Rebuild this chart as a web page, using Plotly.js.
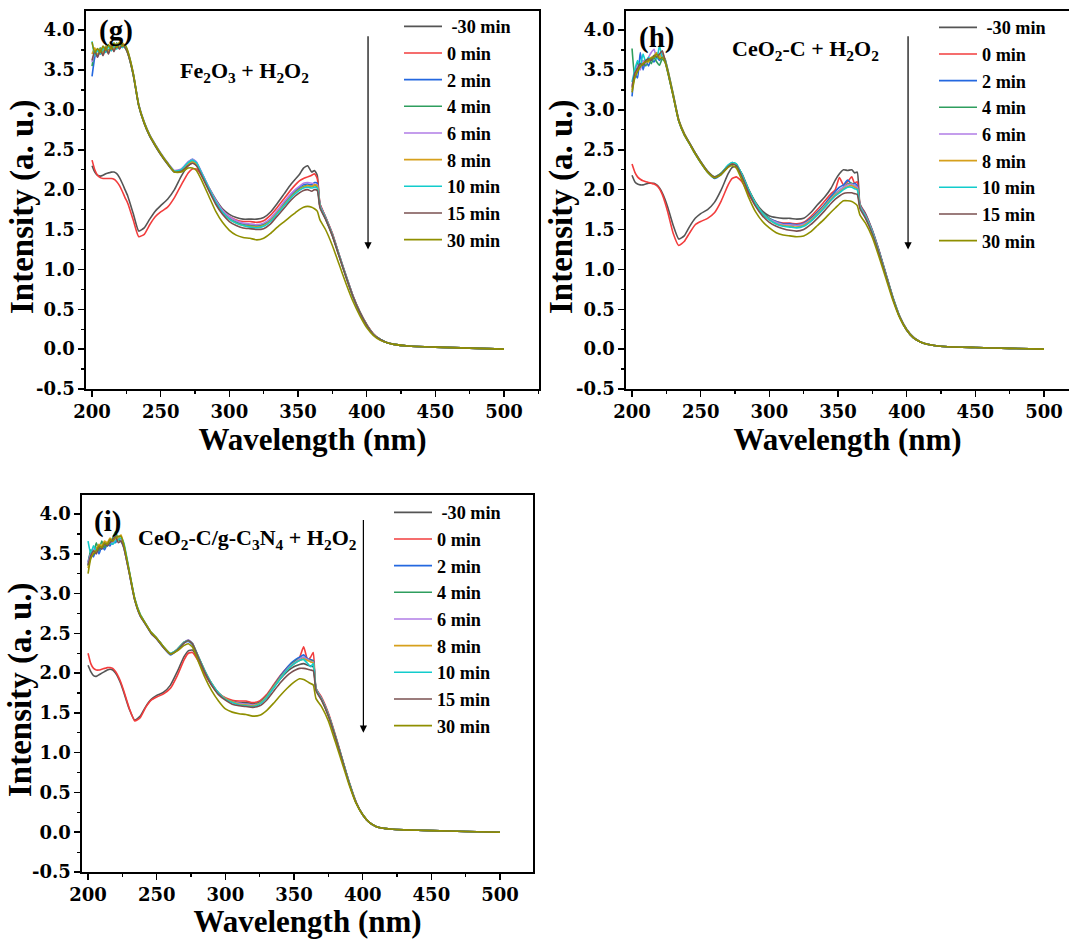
<!DOCTYPE html>
<html>
<head>
<meta charset="utf-8">
<script src="https://cdn.plot.ly/plotly-3.0.1.min.js"></script>
<style>html,body{margin:0;padding:0;background:#fff;} #chart{width:1069px;height:939px;}</style>
</head>
<body>
<div id="chart"></div>
<script>
// ---------------- DATA ----------------
const wavelength = [200,202,204,206,208,210,212,214,216,218,220,222,224,226,
  230,234,238,242,246,250,255,260,265,270,273,276,280,285,290,295,300,305,310,315,
  320,325,330,335,340,345,348,351,354,357,360,362,364,366,370,375,380,385,390,395,
  400,405,410,415,420,430,450,475,500];

const seriesNames = [' -30 min','0 min','2 min','4 min','6 min','8 min','10 min','15 min','30 min'];

const xTickVals = [200,250,300,350,400,450,500];
const yTickVals = [-0.5,0,0.5,1,1.5,2,2.5,3,3.5,4];
const yTickText = ['-0.5','0.0','0.5','1.0','1.5','2.0','2.5','3.0','3.5','4.0'];

const xTitle = 'Wavelength (nm)';
const yTitle = 'Intensity (a. u.)';
const panelLabels = ['(g)','(h)','(i)'];
const panelTitles = ['Fe<sub>2</sub>O<sub>3</sub> + H<sub>2</sub>O<sub>2</sub>',
  'CeO<sub>2</sub>-C + H<sub>2</sub>O<sub>2</sub>',
  'CeO<sub>2</sub>-C/g-C<sub>3</sub>N<sub>4</sub> + H<sub>2</sub>O<sub>2</sub>'];

// Panel (g) Fe2O3 + H2O2
const g_m30 = [2.30,2.22,2.18,2.17,2.18,2.20,2.21,2.22,2.22,2.20,2.15,2.08,2.00,1.92,
  1.70,1.48,1.52,1.63,1.73,1.80,1.88,2.00,2.17,2.30,2.33,2.31,2.20,2.03,1.88,1.76,1.69,1.65,1.63,1.63,
  1.63,1.65,1.72,1.83,1.95,2.07,2.13,2.19,2.27,2.30,2.22,2.24,2.18,1.82,1.66,1.45,1.18,0.92,0.67,0.47,
  0.31,0.19,0.12,0.08,0.06,0.04,0.025,0.012,0.0];
const g_0 = [2.37,2.25,2.18,2.15,2.14,2.14,2.14,2.14,2.13,2.10,2.05,1.98,1.90,1.83,
  1.62,1.41,1.44,1.56,1.66,1.72,1.78,1.90,2.06,2.21,2.26,2.26,2.17,2.01,1.86,1.74,1.66,1.62,1.60,1.60,
  1.59,1.61,1.68,1.78,1.89,2.00,2.06,2.11,2.14,2.16,2.18,2.20,2.14,1.82,1.66,1.45,1.18,0.92,0.67,0.47,
  0.31,0.19,0.12,0.08,0.06,0.04,0.025,0.012,0.0];
const g_2 = [3.42,3.66,3.76,3.70,3.79,3.73,3.80,3.75,3.82,3.77,3.83,3.79,3.80,3.72,
  3.45,3.06,2.84,2.68,2.56,2.45,2.33,2.23,2.25,2.34,2.38,2.34,2.20,2.02,1.86,1.73,1.65,1.60,1.57,1.56,
  1.55,1.57,1.63,1.73,1.84,1.94,1.99,2.03,2.06,2.07,2.06,2.09,2.08,1.80,1.65,1.43,1.17,0.91,0.66,0.46,
  0.30,0.18,0.12,0.08,0.06,0.04,0.025,0.012,0.0];
const g_4 = [3.55,3.72,3.68,3.78,3.72,3.80,3.74,3.81,3.76,3.84,3.78,3.82,3.78,3.71,
  3.44,3.05,2.83,2.67,2.55,2.44,2.32,2.22,2.24,2.33,2.36,2.33,2.19,2.01,1.85,1.72,1.64,1.59,1.56,1.55,
  1.54,1.56,1.62,1.72,1.82,1.92,1.97,2.01,2.04,2.05,2.04,2.05,2.04,1.79,1.64,1.43,1.17,0.91,0.66,0.46,
  0.30,0.18,0.12,0.08,0.06,0.04,0.025,0.012,0.0];
const g_6 = [3.60,3.70,3.66,3.74,3.69,3.77,3.72,3.80,3.74,3.82,3.77,3.83,3.79,3.73,
  3.46,3.07,2.85,2.69,2.57,2.46,2.34,2.24,2.26,2.35,2.38,2.35,2.21,2.03,1.87,1.74,1.66,1.61,1.58,1.57,
  1.56,1.58,1.64,1.74,1.85,1.95,2.00,2.04,2.08,2.09,2.08,2.07,2.06,1.80,1.65,1.44,1.18,0.92,0.67,0.46,
  0.30,0.18,0.12,0.08,0.06,0.04,0.025,0.012,0.0];
const g_8 = [3.70,3.78,3.68,3.76,3.70,3.79,3.73,3.81,3.75,3.83,3.79,3.84,3.80,3.72,
  3.45,3.06,2.84,2.68,2.56,2.45,2.33,2.23,2.24,2.32,2.35,2.32,2.18,2.00,1.84,1.71,1.63,1.58,1.55,1.54,
  1.53,1.55,1.61,1.71,1.81,1.91,1.96,2.00,2.03,2.05,2.04,2.06,2.05,1.79,1.64,1.43,1.17,0.91,0.66,0.46,
  0.30,0.18,0.12,0.08,0.06,0.04,0.025,0.012,0.0];
const g_10 = [3.86,3.68,3.75,3.70,3.78,3.72,3.80,3.74,3.82,3.76,3.83,3.78,3.81,3.73,
  3.45,3.06,2.84,2.68,2.56,2.45,2.33,2.23,2.25,2.34,2.37,2.34,2.20,2.02,1.85,1.72,1.63,1.58,1.55,1.53,
  1.52,1.54,1.60,1.70,1.80,1.90,1.95,1.99,2.02,2.03,2.02,2.03,2.02,1.79,1.64,1.43,1.17,0.91,0.66,0.46,
  0.30,0.18,0.12,0.08,0.06,0.04,0.025,0.012,0.0];
const g_15 = [3.62,3.74,3.66,3.75,3.68,3.78,3.70,3.80,3.73,3.82,3.76,3.82,3.78,3.71,
  3.44,3.05,2.83,2.67,2.55,2.44,2.32,2.22,2.23,2.30,2.33,2.30,2.17,1.99,1.82,1.69,1.60,1.55,1.52,1.51,
  1.50,1.51,1.57,1.67,1.77,1.87,1.92,1.96,1.99,2.00,1.98,2.00,1.99,1.77,1.63,1.42,1.16,0.90,0.66,0.46,
  0.30,0.18,0.12,0.08,0.06,0.04,0.025,0.012,0.0];
const g_30 = [3.85,3.72,3.77,3.72,3.80,3.75,3.82,3.76,3.84,3.78,3.85,3.80,3.82,3.74,
  3.46,3.06,2.84,2.68,2.56,2.45,2.33,2.22,2.22,2.27,2.27,2.24,2.11,1.92,1.73,1.59,1.49,1.43,1.40,1.39,
  1.37,1.39,1.45,1.53,1.60,1.67,1.71,1.75,1.78,1.79,1.78,1.76,1.73,1.62,1.50,1.30,1.06,0.82,0.60,0.42,
  0.27,0.17,0.11,0.08,0.06,0.04,0.025,0.012,0.0];

// Panel (h) CeO2-C + H2O2
const h_m30 = [2.18,2.10,2.07,2.06,2.06,2.07,2.08,2.08,2.08,2.06,2.02,1.96,1.88,1.78,
  1.55,1.38,1.42,1.54,1.64,1.70,1.75,1.84,2.00,2.20,2.28,2.29,2.20,2.00,1.84,1.73,1.67,1.65,1.64,1.64,
  1.63,1.64,1.71,1.81,1.90,2.02,2.12,2.20,2.25,2.24,2.25,2.21,2.22,1.82,1.70,1.49,1.23,0.94,0.65,0.41,
  0.25,0.15,0.09,0.06,0.045,0.03,0.02,0.01,0.0];
const h_0 = [2.32,2.22,2.16,2.13,2.11,2.10,2.09,2.08,2.07,2.05,2.01,1.94,1.84,1.72,
  1.45,1.30,1.35,1.46,1.56,1.60,1.64,1.71,1.86,2.06,2.14,2.16,2.10,1.94,1.80,1.69,1.63,1.60,1.58,1.58,
  1.57,1.59,1.66,1.75,1.85,1.95,2.00,2.15,2.06,2.10,2.16,2.08,2.10,1.81,1.69,1.48,1.22,0.93,0.64,0.40,
  0.24,0.14,0.09,0.06,0.045,0.03,0.02,0.01,0.0];
const h_2 = [3.17,3.45,3.40,3.72,3.50,3.62,3.55,3.64,3.60,3.66,3.62,3.66,3.64,3.48,
  3.18,2.86,2.69,2.57,2.45,2.34,2.22,2.14,2.19,2.29,2.33,2.31,2.18,1.98,1.82,1.71,1.64,1.60,1.57,1.57,
  1.56,1.58,1.64,1.72,1.81,1.92,1.98,2.03,2.06,2.12,2.07,2.08,2.05,1.80,1.68,1.48,1.22,0.93,0.64,0.40,
  0.24,0.14,0.09,0.06,0.045,0.03,0.02,0.01,0.0];
const h_4 = [3.77,3.40,3.60,3.52,3.62,3.55,3.64,3.58,3.66,3.60,3.56,3.64,3.60,3.47,
  3.17,2.86,2.69,2.57,2.45,2.34,2.22,2.15,2.20,2.30,2.34,2.32,2.19,1.99,1.83,1.71,1.64,1.59,1.56,1.56,
  1.55,1.57,1.63,1.71,1.80,1.90,1.95,1.99,2.03,2.07,2.08,2.05,2.03,1.79,1.67,1.47,1.21,0.92,0.64,0.40,
  0.24,0.14,0.09,0.06,0.045,0.03,0.02,0.01,0.0];
const h_6 = [3.30,3.48,3.56,3.50,3.62,3.58,3.66,3.72,3.76,3.65,3.68,3.70,3.62,3.50,
  3.19,2.87,2.70,2.58,2.46,2.35,2.23,2.16,2.20,2.30,2.33,2.31,2.18,1.98,1.82,1.70,1.63,1.59,1.56,1.56,
  1.55,1.57,1.62,1.70,1.79,1.89,1.94,1.99,2.03,2.06,2.07,2.05,2.03,1.79,1.67,1.47,1.21,0.92,0.64,0.40,
  0.24,0.14,0.09,0.06,0.045,0.03,0.02,0.01,0.0];
const h_8 = [3.25,3.42,3.50,3.56,3.58,3.62,3.60,3.66,3.68,3.72,3.66,3.70,3.64,3.51,
  3.20,2.88,2.71,2.58,2.46,2.35,2.23,2.16,2.21,2.30,2.33,2.31,2.18,1.98,1.82,1.70,1.62,1.57,1.55,1.54,
  1.53,1.55,1.61,1.69,1.78,1.88,1.93,1.97,2.01,2.04,2.05,2.03,2.01,1.78,1.66,1.46,1.20,0.92,0.64,0.40,
  0.24,0.14,0.09,0.06,0.045,0.03,0.02,0.01,0.0];
const h_10 = [3.35,3.50,3.62,3.55,3.70,3.60,3.66,3.62,3.68,3.64,3.80,3.66,3.63,3.50,
  3.19,2.87,2.70,2.58,2.46,2.35,2.23,2.16,2.21,2.31,2.34,2.32,2.19,1.99,1.82,1.70,1.62,1.57,1.54,1.53,
  1.52,1.54,1.60,1.68,1.77,1.87,1.92,1.96,2.00,2.03,2.03,2.01,2.00,1.78,1.66,1.46,1.20,0.92,0.64,0.40,
  0.24,0.14,0.09,0.06,0.045,0.03,0.02,0.01,0.0];
const h_15 = [3.28,3.46,3.52,3.58,3.56,3.62,3.64,3.62,3.68,3.66,3.70,3.74,3.62,3.49,
  3.18,2.87,2.70,2.58,2.46,2.35,2.23,2.16,2.20,2.29,2.32,2.30,2.16,1.96,1.79,1.67,1.59,1.54,1.51,1.49,
  1.48,1.50,1.56,1.64,1.73,1.83,1.88,1.92,1.95,1.96,1.96,1.95,1.94,1.76,1.64,1.44,1.19,0.91,0.63,0.40,
  0.24,0.14,0.09,0.06,0.045,0.03,0.02,0.01,0.0];
const h_30 = [3.22,3.40,3.48,3.54,3.58,3.60,3.62,3.65,3.66,3.70,3.64,3.66,3.60,3.48,
  3.17,2.86,2.69,2.57,2.45,2.34,2.22,2.15,2.19,2.28,2.30,2.27,2.12,1.90,1.72,1.60,1.52,1.46,1.43,1.42,
  1.41,1.42,1.47,1.55,1.63,1.72,1.77,1.82,1.86,1.86,1.85,1.83,1.80,1.68,1.58,1.40,1.15,0.88,0.61,0.39,
  0.24,0.14,0.09,0.06,0.045,0.03,0.02,0.01,0.0];

// Panel (i) CeO2-C/g-C3N4 + H2O2
const i_m30 = [2.10,2.02,1.97,1.96,1.98,2.00,2.02,2.04,2.05,2.04,2.00,1.94,1.86,1.76,
  1.55,1.41,1.46,1.58,1.67,1.72,1.76,1.85,2.02,2.21,2.28,2.29,2.18,2.00,1.85,1.74,1.68,1.65,1.63,1.63,
  1.62,1.64,1.71,1.82,1.93,2.02,2.06,2.09,2.11,2.12,2.10,2.09,2.08,1.80,1.68,1.48,1.21,0.92,0.63,0.38,
  0.22,0.12,0.07,0.05,0.04,0.03,0.02,0.01,0.0];
const i_0 = [2.25,2.12,2.06,2.04,2.04,2.05,2.06,2.07,2.07,2.06,2.02,1.96,1.88,1.78,
  1.56,1.40,1.44,1.57,1.66,1.70,1.74,1.81,1.97,2.17,2.25,2.26,2.16,1.99,1.85,1.75,1.69,1.66,1.65,1.65,
  1.63,1.65,1.73,1.85,1.97,2.07,2.12,2.16,2.20,2.33,2.16,2.20,2.26,1.81,1.70,1.50,1.23,0.93,0.64,0.39,
  0.22,0.12,0.07,0.05,0.04,0.03,0.02,0.01,0.0];
const i_2 = [3.40,3.52,3.46,3.58,3.50,3.60,3.55,3.62,3.60,3.66,3.64,3.70,3.66,3.58,
  3.26,2.92,2.72,2.61,2.50,2.43,2.32,2.23,2.29,2.38,2.40,2.36,2.21,2.02,1.86,1.75,1.68,1.64,1.62,1.61,
  1.60,1.63,1.71,1.83,1.96,2.07,2.13,2.17,2.20,2.23,2.18,2.17,2.16,1.80,1.68,1.48,1.21,0.92,0.63,0.38,
  0.22,0.12,0.07,0.05,0.04,0.03,0.02,0.01,0.0];
const i_4 = [3.35,3.55,3.50,3.64,3.54,3.66,3.58,3.62,3.64,3.70,3.78,3.68,3.66,3.60,
  3.27,2.93,2.73,2.62,2.51,2.44,2.33,2.24,2.30,2.39,2.41,2.37,2.22,2.03,1.87,1.75,1.68,1.64,1.62,1.61,
  1.60,1.63,1.71,1.83,1.95,2.05,2.11,2.15,2.18,2.20,2.17,2.16,2.15,1.80,1.68,1.48,1.21,0.92,0.63,0.38,
  0.22,0.12,0.07,0.05,0.04,0.03,0.02,0.01,0.0];
const i_6 = [3.38,3.50,3.56,3.52,3.60,3.56,3.64,3.60,3.66,3.62,3.68,3.70,3.68,3.59,
  3.27,2.93,2.73,2.62,2.51,2.44,2.33,2.24,2.30,2.39,2.42,2.38,2.22,2.03,1.87,1.75,1.68,1.64,1.62,1.61,
  1.60,1.62,1.70,1.82,1.94,2.05,2.10,2.14,2.18,2.20,2.17,2.15,2.14,1.80,1.68,1.48,1.21,0.92,0.63,0.38,
  0.22,0.12,0.07,0.05,0.04,0.03,0.02,0.01,0.0];
const i_8 = [3.32,3.46,3.52,3.56,3.62,3.60,3.66,3.64,3.70,3.66,3.72,3.68,3.74,3.62,
  3.28,2.94,2.74,2.62,2.51,2.44,2.33,2.25,2.30,2.39,2.41,2.37,2.22,2.03,1.87,1.75,1.68,1.64,1.61,1.60,
  1.59,1.62,1.70,1.82,1.94,2.04,2.09,2.13,2.16,2.18,2.16,2.14,2.13,1.79,1.67,1.47,1.21,0.92,0.63,0.38,
  0.22,0.12,0.07,0.05,0.04,0.03,0.02,0.01,0.0];
const i_10 = [3.66,3.50,3.60,3.54,3.58,3.56,3.62,3.60,3.64,3.62,3.66,3.68,3.70,3.64,
  3.29,2.94,2.74,2.62,2.51,2.44,2.33,2.25,2.30,2.39,2.41,2.37,2.22,2.03,1.87,1.75,1.67,1.63,1.60,1.59,
  1.58,1.61,1.69,1.81,1.93,2.04,2.09,2.13,2.16,2.17,2.12,2.08,2.12,1.79,1.67,1.47,1.21,0.92,0.63,0.38,
  0.22,0.12,0.07,0.05,0.04,0.03,0.02,0.01,0.0];
const i_15 = [3.36,3.48,3.54,3.50,3.58,3.56,3.62,3.60,3.64,3.68,3.72,3.64,3.66,3.58,
  3.26,2.92,2.72,2.61,2.50,2.43,2.32,2.24,2.29,2.38,2.41,2.37,2.21,2.01,1.85,1.73,1.66,1.61,1.59,1.58,
  1.57,1.59,1.66,1.77,1.88,1.97,2.01,2.04,2.06,2.06,2.05,2.04,2.03,1.78,1.66,1.46,1.20,0.91,0.62,0.38,
  0.22,0.12,0.07,0.05,0.04,0.03,0.02,0.01,0.0];
const i_30 = [3.25,3.44,3.50,3.54,3.60,3.58,3.64,3.62,3.68,3.66,3.70,3.72,3.72,3.62,
  3.28,2.93,2.73,2.62,2.51,2.44,2.33,2.24,2.28,2.35,2.37,2.33,2.16,1.95,1.78,1.65,1.55,1.51,1.49,1.48,
  1.46,1.47,1.53,1.62,1.72,1.81,1.86,1.90,1.93,1.92,1.89,1.87,1.85,1.68,1.58,1.40,1.14,0.87,0.60,0.37,
  0.22,0.12,0.07,0.05,0.04,0.03,0.02,0.01,0.0];

// ---------------- STYLE ----------------
const lineColors = ['#555555','#f23c3c','#2468e0','#2e9e5e','#b07de6','#d6a01c','#12cccc','#7a5050','#8f8f00'];
const FONT = 'Liberation Serif, Times New Roman, serif';
const WIDEFONT = 'DejaVu Serif, Liberation Serif, serif';

const panels = [
  {data:[g_m30,g_0,g_2,g_4,g_6,g_8,g_10,g_15,g_30], xa:'x', ya:'y', leg:'legend'},
  {data:[h_m30,h_0,h_2,h_4,h_6,h_8,h_10,h_15,h_30], xa:'x2', ya:'y2', leg:'legend2'},
  {data:[i_m30,i_0,i_2,i_4,i_6,i_8,i_10,i_15,i_30], xa:'x3', ya:'y3', leg:'legend3'}
];

const traces = [];
panels.forEach(p => {
  p.data.forEach((vals, k) => {
    traces.push({
      type:'scatter', mode:'lines', x: wavelength, y: vals,
      name: seriesNames[k], xaxis: p.xa, yaxis: p.ya, legend: p.leg,
      line:{color: lineColors[k], width:1.6, shape:'spline', smoothing:0.5}, hoverinfo:'skip'
    });
  });
});

function xAxis(domain, range, anchor){
  return {
    domain: domain, range: range, anchor: anchor,
    tickvals: xTickVals, ticks:'outside', ticklen:6, tickwidth:1.5, tickcolor:'#000',
    minor:{dtick:25, tick0:200, ticks:'outside', ticklen:3.5, tickwidth:1.2, tickcolor:'#000'},
    showline:true, linewidth:1.6, linecolor:'#000', mirror:true,
    showgrid:false, zeroline:false,
    tickfont:{family:WIDEFONT, size:18, color:'#000', weight:'bold'},
    title:{text:xTitle, font:{family:FONT, size:31, color:'#000', weight:'bold'}, standoff:2}
  };
}
function yAxis(domain, anchor){
  return {
    domain: domain, range:[-0.5, 4.24], anchor: anchor,
    tickvals: yTickVals, ticktext: yTickText, ticks:'outside', ticklen:6, tickwidth:1.5, tickcolor:'#000',
    minor:{dtick:0.25, tick0:0, ticks:'outside', ticklen:3.5, tickwidth:1.2, tickcolor:'#000'},
    showline:true, linewidth:1.6, linecolor:'#000', mirror:true,
    showgrid:false, zeroline:false,
    tickfont:{family:WIDEFONT, size:18, color:'#000', weight:'bold'}
  };
}
function legend(x, y){
  return {x:x, y:y, xref:'paper', yref:'paper', xanchor:'left', yanchor:'top',
    bgcolor:'rgba(0,0,0,0)', borderwidth:0, itemwidth:38, tracegroupgap:0,
    font:{family:FONT, size:18.2, color:'#000', weight:'bold'}};
}

const W = 1069, H = 939;
const annFont = {family:FONT, size:22, color:'#000', weight:'bold'};
const labFont = {family:FONT, size:29, color:'#000', weight:'bold'};
const yTitleFont = {family:FONT, size:33, color:'#000', weight:'bold'};
const annotations = [];
const arrowSpec = [
  {xr:'x', yr:'y', x:401, y0:4.05, y1:1.25},
  {xr:'x2', yr:'y2', x:401, y0:4.05, y1:1.25},
  {xr:'x3', yr:'y3', x:400.5, y0:4.05, y1:1.25}
];
const titlePos = [[311,3.47],[326,3.75],[316,3.69]];
const labelPos = [[217.5,4.0],[217.5,3.91],[214,3.91]];
const yTitlePx = [[23,207],[562,207],[20,690]];
arrowSpec.forEach((a, k) => {
  annotations.push({xref:a.xr, yref:a.yr, axref:a.xr, ayref:a.yr, x:a.x, y:a.y1, ax:a.x, ay:a.y0,
    showarrow:true, arrowhead:2, arrowsize:1.2, arrowwidth:1.2, arrowcolor:'#000', text:' '});
  annotations.push({xref:a.xr, yref:a.yr, x:titlePos[k][0], y:titlePos[k][1], text:panelTitles[k],
    showarrow:false, font:annFont});
  annotations.push({xref:a.xr, yref:a.yr, x:labelPos[k][0], y:labelPos[k][1], text:panelLabels[k],
    showarrow:false, font:labFont});
  annotations.push({xref:'paper', yref:'paper', x:yTitlePx[k][0]/W, y:1-yTitlePx[k][1]/H,
    xanchor:'center', yanchor:'middle', textangle:-90, text:yTitle, showarrow:false, font:yTitleFont});
});

const layout = {
  width:W, height:H, margin:{l:0, r:0, t:0, b:0}, paper_bgcolor:'#fff', plot_bgcolor:'#fff',
  showlegend:true,
  xaxis: xAxis([86/W, 539/W], [195.6, 525.5], 'y'),
  yaxis: yAxis([1-389/H, 1-11/H], 'x'),
  xaxis2: xAxis([626/W, 1], [195.6, 518.2], 'y2'),
  yaxis2: yAxis([1-389/H, 1-11/H], 'x2'),
  xaxis3: xAxis([82/W, 533/W], [195.6, 524], 'y3'),
  yaxis3: yAxis([1-872/H, 1-495/H], 'x3'),
  legend: legend(399/W, 1-8/H),
  legend2: legend(934/W, 1-9/H),
  legend3: legend(389/W, 1-494/H),
  annotations: annotations
};
Plotly.newPlot('chart', traces, layout, {staticPlot:true, displayModeBar:false});
</script>
</body>
</html>
